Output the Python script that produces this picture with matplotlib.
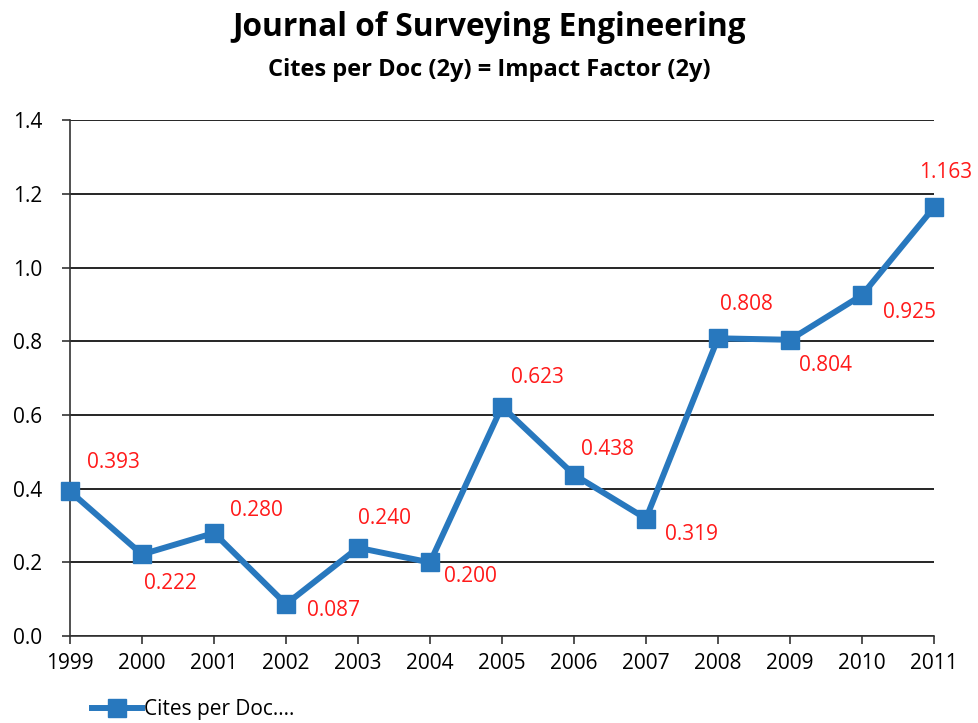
import matplotlib.pyplot as plt

years = [1999, 2000, 2001, 2002, 2003, 2004, 2005, 2006, 2007, 2008, 2009, 2010, 2011]
cites = [0.393, 0.222, 0.280, 0.087, 0.240, 0.200, 0.623, 0.438, 0.319, 0.808, 0.804, 0.925, 1.163]
labels = ['0.393', '0.222', '0.280', '0.087', '0.240', '0.200', '0.623', '0.438',
          '0.319', '0.808', '0.804', '0.925', '1.163']
# label offsets in pixels (dx, dy), dy up
offsets = [(43, 29), (28, -29), (42, 22), (48, -6), (27, 29), (40, -14), (35, 29),
           (34, 25), (46, -16), (28, 34), (36, -26), (48, -17), (12, 35)]

plt.rcParams['font.family'] = ['Open Sans', 'DejaVu Sans']

fig = plt.figure(figsize=(9.79, 7.23), dpi=100)
ax = fig.add_axes([0.0715, 0.120, 0.8825, 0.714])

blue = '#2878BE'
ax.plot(years, cites, color=blue, lw=4.3, marker='s', markersize=13,
        clip_on=False, zorder=3, label='Cites per Doc.…')

for x, y, lab, off in zip(years, cites, labels, offsets):
    ax.annotate(lab, xy=(x, y), xytext=off, textcoords='offset pixels',
                ha='center', va='center', color='#FF1A1A', fontsize=15)

ax.set_xlim(1999, 2011)
ax.set_ylim(0, 1.4)
ax.set_xticks(years)
ax.set_yticks([0, 0.2, 0.4, 0.6, 0.8, 1.0, 1.2, 1.4])
ax.set_yticklabels(['0.0', '0.2', '0.4', '0.6', '0.8', '1.0', '1.2', '1.4'])
ax.tick_params(labelsize=15, length=6, width=1.2, color='#333333', direction='out')
ax.tick_params(axis='y', pad=14)
ax.tick_params(axis='x', pad=6)
ax.yaxis.grid(True, color='black', lw=1.2)
ax.set_axisbelow(True)
for s in ['top', 'right']:
    ax.spines[s].set_visible(False)
for s in ['left', 'bottom']:
    ax.spines[s].set_color('#333333')
    ax.spines[s].set_linewidth(1.2)

fig.text(0.5, 0.962, 'Journal of Surveying Engineering', ha='center', va='center',
         fontsize=22.8, fontweight='bold')
fig.text(0.5, 0.903, 'Cites per Doc (2y) = Impact Factor (2y)', ha='center', va='center',
         fontsize=17, fontweight='bold')

fig.legend(loc='center left', bbox_to_anchor=(0.075, 0.018), frameon=False,
           fontsize=15, handlelength=2.4, handletextpad=0.1)

fig.savefig('out.png', dpi=100)
